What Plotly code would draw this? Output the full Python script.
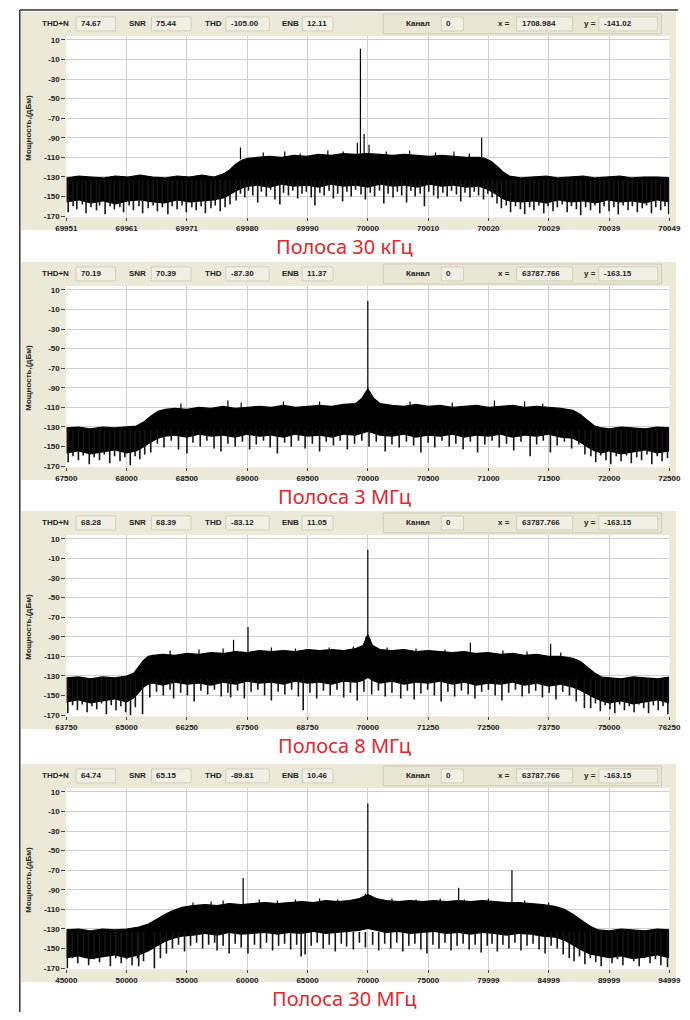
import plotly.graph_objects as go

# The page body has an 8px default margin, so the figure is sized to fit the
# 690x1020 window and all pixel positions below (measured on the reference)
# are shifted by that margin.
OFF = 8
W, H = 682, 1004

# ---------------- DATA ----------------
Y_TICKS = [10, -10, -30, -50, -70, -90, -110, -130, -150, -170]
Y_LABELS = ["10", "-10", "-30", "-50", "-70", "-90", "-110", "-130", "-150", "-170"]
Y_TITLE = "Мощность,(дБм)"
HEADER_NAMES = ["THD+N", "SNR", "THD", "ENB", "Канал", "x =", "y ="]

# Panel 1: band 30 kHz
P1_RANGE = [69951, 70049]
P1_XTICKS = [69951, 69960.8, 69970.6, 69980.4, 69990.2, 70000, 70009.8, 70019.6, 70029.4, 70039.2, 70049]
P1_XLABELS = ["69951", "69961", "69971", "69980", "69990", "70000", "70010", "70020", "70029", "70039", "70049"]
P1_HEADER = ["74.67", "75.44", "-105.00", "12.11", "0", "1708.984", "-141.02"]
P1_CAPTION = "Полоса 30 кГц"
P1_X = [69951, 69953, 69955, 69957, 69959, 69961, 69963, 69965, 69967, 69969,
        69971, 69973, 69975, 69976.5, 69977.5, 69978.5, 69979.5, 69980.5, 69982, 69984,
        69986, 69988, 69990, 69992, 69994, 69996, 69998, 70000, 70002, 70004,
        70006, 70008, 70010, 70012, 70014, 70016, 70018, 70019, 70020, 70021,
        70022, 70023, 70025, 70027, 70029, 70031, 70033, 70035, 70037, 70039,
        70041, 70043, 70045, 70047, 70049]
P1_TOP = [-131, -129, -130, -131, -129, -130, -128, -130, -131, -129,
          -130, -128, -130, -127, -123, -117, -113, -111, -110, -109,
          -110, -108, -109, -107, -108, -106, -107, -106, -107, -108,
          -107, -108, -109, -108, -109, -110, -110, -111, -114, -119,
          -125, -129, -131, -130, -129, -131, -130, -129, -131, -130,
          -129, -131, -130, -130, -131]
P1_BOT = [-156, -154, -157, -155, -158, -155, -154, -156, -157, -154,
          -156, -155, -154, -152, -149, -145, -142, -140, -139, -141,
          -138, -140, -139, -141, -138, -140, -139, -141, -138, -140,
          -139, -141, -138, -140, -139, -141, -140, -142, -145, -149,
          -153, -155, -156, -155, -157, -154, -156, -155, -157, -154,
          -156, -155, -157, -154, -156]
P1_DIPS = [(69951.3, -166), (69952.1, -160), (69952.7, -163), (69953.6, -158), (69954.2, -167),
           (69955.0, -161), (69955.9, -164), (69956.4, -159), (69957.3, -168), (69958.1, -160),
           (69958.8, -163), (69959.7, -161), (69960.3, -166), (69961.2, -159), (69961.9, -164),
           (69962.8, -160), (69963.4, -167), (69964.3, -162), (69965.1, -159), (69965.8, -165),
           (69966.6, -161), (69967.5, -168), (69968.2, -160), (69969.0, -163), (69969.8, -159),
           (69970.5, -166), (69971.4, -161), (69972.1, -164), (69972.9, -160), (69973.6, -167),
           (69974.5, -162), (69975.2, -159), (69976.0, -165), (69976.8, -161), (69977.6, -158),
           (69978.6, -154), (69979.3, -147), (69980.0, -151), (69980.6, -144), (69981.3, -149),
           (69982.1, -156), (69982.7, -145), (69983.5, -150), (69984.2, -143), (69984.9, -153),
           (69985.7, -158), (69986.3, -146), (69987.1, -149), (69987.8, -144), (69988.6, -152),
           (69989.3, -147), (69990.0, -145), (69990.8, -151), (69991.4, -159), (69992.2, -146),
           (69992.9, -149), (69993.7, -144), (69994.4, -152), (69995.1, -147), (69995.9, -155),
           (69996.6, -145), (69997.3, -150), (69998.0, -143), (69998.9, -148), (69999.6, -153),
           (70000.4, -146), (70001.1, -150), (70001.9, -144), (70002.6, -157), (70003.3, -147),
           (70004.1, -151), (70004.8, -145), (70005.5, -149), (70006.3, -156), (70007.0, -144),
           (70007.7, -150), (70008.5, -147), (70009.2, -160), (70009.9, -145), (70010.7, -149),
           (70011.4, -152), (70012.2, -146), (70012.9, -150), (70013.6, -144), (70014.4, -148),
           (70015.1, -155), (70015.8, -146), (70016.6, -151), (70017.3, -145), (70018.0, -149),
           (70018.8, -153), (70019.5, -147), (70020.2, -151),
           (70021.0, -157), (70021.7, -162), (70022.5, -159), (70023.2, -166), (70024.0, -160),
           (70024.8, -163), (70025.5, -168), (70026.3, -161), (70027.0, -164), (70027.8, -159),
           (70028.6, -167), (70029.3, -160), (70030.1, -165), (70030.8, -161), (70031.6, -158),
           (70032.4, -166), (70033.1, -160), (70033.9, -163), (70034.6, -169), (70035.4, -161),
           (70036.2, -164), (70036.9, -159), (70037.7, -167), (70038.4, -160), (70039.2, -165),
           (70040.0, -161), (70040.7, -168), (70041.5, -159), (70042.3, -164), (70043.0, -160),
           (70043.8, -166), (70044.6, -162), (70045.3, -159), (70046.1, -167), (70046.8, -161),
           (70047.6, -164), (70048.3, -160), (70048.9, -168)]
P1_PEAKS = [(69998.8, 1), (69998.3, -95), (69999.4, -86), (70000.2, -97), (70018.5, -90),
            (69979.3, -100), (69983, -105), (69986.5, -104), (69989, -106), (69993.5, -103),
            (69996, -104), (70003, -104), (70006.8, -103), (70011, -105), (70014, -104),
            (70016.5, -106)]

# Panel 2: band 3 MHz
P2_RANGE = [67500, 72500]
P2_XTICKS = [67500, 68000, 68500, 69000, 69500, 70000, 70500, 71000, 71500, 72000, 72500]
P2_XLABELS = ["67500", "68000", "68500", "69000", "69500", "70000", "70500", "71000", "71500", "72000", "72500"]
P2_HEADER = ["70.19", "70.39", "-87.30", "11.37", "0", "63787.766", "-163.15"]
P2_CAPTION = "Полоса 3 МГц"
P2_X = [67500, 67600, 67700, 67800, 67900, 68000, 68080, 68140, 68200, 68260,
        68320, 68400, 68500, 68600, 68700, 68800, 68900, 69000, 69100, 69200,
        69300, 69400, 69500, 69600, 69700, 69800, 69900, 69950, 70000, 70050,
        70100, 70200, 70300, 70400, 70500, 70600, 70700, 70800, 70900, 71000,
        71100, 71200, 71300, 71400, 71500, 71600, 71700, 71760, 71820, 71880,
        71940, 72000, 72100, 72200, 72300, 72400, 72500]
P2_TOP = [-131, -130, -132, -130, -131, -130, -129, -125, -119, -114,
          -112, -111, -112, -110, -111, -109, -111, -110, -109, -110,
          -108, -110, -109, -108, -109, -107, -106, -101, -91, -101,
          -106, -108, -109, -107, -109, -108, -110, -109, -108, -110,
          -109, -108, -110, -109, -110, -111, -113, -117, -123, -129,
          -131, -132, -130, -131, -132, -130, -131]
P2_BOT = [-157, -155, -158, -156, -154, -157, -155, -151, -146, -142,
          -140, -139, -141, -138, -140, -139, -141, -138, -140, -139,
          -141, -138, -140, -139, -141, -138, -139, -137, -135, -137,
          -139, -140, -138, -141, -139, -140, -138, -141, -139, -140,
          -138, -141, -139, -140, -138, -141, -142, -146, -151, -155,
          -157, -155, -158, -156, -154, -157, -155]
P2_DIPS = [(67515, -166), (67555, -160), (67600, -164), (67640, -159), (67690, -168),
           (67730, -161), (67775, -164), (67815, -158), (67860, -167), (67900, -160),
           (67945, -165), (67985, -161), (68030, -169), (68070, -160), (68110, -163),
           (68150, -158),
           (68200, -156), (68255, -147), (68310, -151), (68370, -144), (68430, -153),
           (68500, -157), (68550, -146), (68610, -150), (68665, -144), (68725, -152),
           (68782, -155), (68840, -147), (68900, -150), (68960, -145), (69020, -153),
           (69075, -148), (69135, -144), (69190, -151), (69250, -157), (69310, -146),
           (69365, -150), (69425, -144), (69480, -152), (69540, -147), (69600, -155),
           (69655, -145), (69715, -149), (69770, -144), (69830, -153), (69890, -147),
           (69950, -144), (70010, -150), (70070, -145), (70144, -155), (70200, -148),
           (70260, -151), (70320, -145), (70380, -149), (70440, -156), (70500, -146),
           (70555, -151), (70615, -144), (70675, -150), (70730, -147), (70790, -153),
           (70850, -145), (70910, -156), (70970, -148), (71030, -144), (71090, -151),
           (71150, -147), (71210, -154), (71270, -145), (71346, -160), (71400, -148),
           (71455, -144), (71514, -156), (71570, -149), (71630, -145), (71690, -152),
           (71750, -148), (71800, -158),
           (71850, -160), (71890, -166), (71930, -159), (71975, -164), (72015, -168),
           (72060, -160), (72100, -165), (72145, -159), (72185, -167), (72230, -161),
           (72270, -164), (72315, -158), (72355, -168), (72400, -160), (72440, -165),
           (72485, -162)]
P2_PEAKS = [(70000, -1), (69990, -95), (70012, -93), (68840, -103), (68450, -106),
            (68950, -105), (69300, -104), (69600, -104), (70350, -104), (70700, -105),
            (71050, -103), (71300, -104), (71450, -106)]

# Panel 3: band 8 MHz
P3_RANGE = [63750, 76250]
P3_XTICKS = [63750, 65000, 66250, 67500, 68750, 70000, 71250, 72500, 73750, 75000, 76250]
P3_XLABELS = ["63750", "65000", "66250", "67500", "68750", "70000", "71250", "72500", "73750", "75000", "76250"]
P3_HEADER = ["68.28", "68.39", "-83.12", "11.05", "0", "63787.766", "-163.15"]
P3_CAPTION = "Полоса 8 МГц"
P3_X = [63750, 64000, 64250, 64500, 64750, 65000, 65150, 65250, 65350, 65450,
        65550, 65750, 66000, 66250, 66500, 66750, 67000, 67250, 67500, 67750,
        68000, 68250, 68500, 68750, 69000, 69250, 69500, 69750, 69900, 70000,
        70100, 70250, 70500, 70750, 71000, 71250, 71500, 71750, 72000, 72250,
        72500, 72750, 73000, 73250, 73500, 73750, 74000, 74250, 74400, 74550,
        74700, 74850, 75000, 75250, 75500, 75750, 76000, 76250]
P3_TOP = [-132, -131, -133, -131, -132, -130, -127, -121, -114, -110,
          -109, -108, -109, -107, -108, -106, -107, -105, -106, -104,
          -105, -104, -105, -103, -104, -103, -104, -102, -99, -88,
          -99, -103, -104, -103, -105, -104, -105, -106, -105, -107,
          -106, -108, -107, -109, -108, -110, -110, -112, -115, -121,
          -127, -131, -132, -133, -131, -132, -133, -131]
P3_BOT = [-157, -155, -158, -156, -154, -157, -153, -148, -142, -139,
          -138, -140, -137, -139, -138, -140, -137, -139, -136, -138,
          -137, -139, -136, -138, -137, -139, -136, -137, -135, -132,
          -135, -138, -136, -139, -137, -138, -136, -139, -137, -140,
          -138, -139, -137, -140, -138, -141, -139, -142, -145, -149,
          -153, -156, -158, -156, -159, -157, -155, -158]
P3_DIPS = [(63780, -168), (63880, -160), (63980, -165), (64080, -159), (64180, -167),
           (64280, -161), (64380, -164), (64480, -158), (64580, -169), (64680, -160),
           (64780, -165), (64880, -161), (64980, -167), (65080, -170), (65180, -162),
           (65330, -169),
           (65480, -152), (65620, -146), (65760, -150), (65900, -144), (65974, -153),
           (66120, -147), (66260, -150), (66400, -156), (66540, -145), (66680, -149),
           (66820, -144), (66960, -151), (67100, -147), (67156, -152), (67300, -145),
           (67440, -153), (67580, -146), (67720, -144), (67860, -150), (68000, -155),
           (68140, -146), (68280, -149), (68420, -144), (68560, -151), (68660, -165),
           (68800, -147), (68940, -153), (69080, -145), (69220, -150), (69360, -144),
           (69500, -152), (69640, -147), (69780, -155), (69920, -146), (70080, -149),
           (70220, -145), (70360, -151), (70500, -147), (70682, -153), (70820, -145),
           (70960, -154), (71100, -148), (71240, -144), (71380, -150), (71520, -156),
           (71660, -146), (71800, -151), (71940, -145), (72080, -149), (72220, -153),
           (72360, -146), (72500, -144), (72640, -150), (72780, -155), (72920, -147),
           (73060, -144), (73200, -151), (73340, -148), (73480, -145), (73620, -152),
           (73760, -147), (73900, -154), (74040, -146), (74180, -150), (74320, -156),
           (74490, -163),
           (74620, -163), (74720, -158), (74820, -166), (74920, -160), (75020, -164),
           (75120, -168), (75220, -159), (75320, -165), (75420, -161), (75520, -167),
           (75620, -159), (75720, -163), (75820, -168), (75920, -160), (76020, -165),
           (76120, -161), (76220, -169)]
P3_PEAKS = [(70000, -1), (69960, -90), (70040, -92), (67216, -93), (67516, -80),
            (72126, -96), (73790, -97), (65900, -104), (66500, -103), (67000, -102),
            (68000, -101), (68500, -102), (69200, -101), (69700, -100), (70400, -101),
            (71000, -102), (71600, -103), (72800, -104), (73300, -105), (74000, -106)]

# Panel 4: band 30 MHz
P4_RANGE = [45000, 94999]
P4_XTICKS = [45000, 50000, 55000, 60000, 65000, 70000, 75000, 79999, 84999, 89999, 94999]
P4_XLABELS = ["45000", "50000", "55000", "60000", "65000", "70000", "75000", "79999", "84999", "89999", "94999"]
P4_HEADER = ["64.74", "65.15", "-89.81", "10.46", "0", "63787.766", "-163.15"]
P4_CAPTION = "Полоса 30 МГц"
P4_X = [45000, 46000, 47000, 48000, 49000, 50000, 51000, 51800, 52500, 53200,
        53900, 54600, 55500, 56500, 57500, 58500, 59500, 60500, 61500, 62500,
        63500, 64500, 65500, 66500, 67500, 68500, 69300, 70000, 70700, 71500,
        72500, 73500, 74500, 75500, 76500, 77500, 78500, 79500, 80500, 81500,
        82500, 83500, 84500, 85500, 86300, 87000, 87700, 88400, 89100, 90000,
        91000, 92000, 93000, 94000, 94999]
P4_TOP = [-131, -130, -132, -130, -131, -130, -128, -125, -120, -115,
          -111, -108, -106, -105, -106, -104, -105, -104, -103, -104,
          -103, -102, -103, -101, -102, -101, -99, -95, -99, -101,
          -102, -101, -102, -101, -102, -101, -102, -101, -102, -103,
          -103, -104, -105, -107, -110, -115, -121, -127, -131, -132,
          -130, -131, -132, -130, -131]
P4_BOT = [-160, -158, -161, -159, -157, -160, -157, -153, -148, -143,
          -140, -138, -137, -135, -137, -134, -136, -135, -134, -136,
          -134, -135, -133, -135, -134, -133, -132, -130, -132, -134,
          -133, -135, -134, -133, -135, -134, -136, -134, -135, -137,
          -135, -136, -138, -139, -142, -147, -152, -156, -158, -160,
          -158, -161, -159, -157, -160]
P4_DIPS = [(45080, -170), (45500, -160), (45950, -165), (46400, -159), (46850, -167),
           (47300, -161), (47750, -164), (48200, -158), (48650, -168), (49100, -160),
           (49550, -165), (50000, -161), (50450, -167), (50900, -160), (51000, -168),
           (51400, -163),
           (52300, -170), (52800, -160), (53300, -155), (53800, -150), (54300, -146),
           (54800, -153), (55300, -147), (55800, -144), (56300, -150), (56800, -146),
           (57300, -144), (57500, -152), (58000, -147), (58500, -155), (59000, -145),
           (59500, -149), (60060, -155), (60600, -146), (61100, -150), (61600, -144),
           (62100, -152), (62600, -147), (63100, -145), (63600, -151), (64100, -146),
           (64470, -158), (64800, -156), (65300, -147), (65800, -144), (66300, -150),
           (66800, -146), (67300, -153), (67800, -145), (68240, -148), (68800, -151),
           (69300, -144), (69800, -149), (70400, -146), (70900, -152), (71400, -145),
           (71900, -150), (72400, -144), (72900, -153), (73400, -147), (73900, -145),
           (74400, -151), (74900, -155), (75400, -146), (75900, -150), (76400, -144),
           (76900, -152), (77400, -147), (77900, -145), (78400, -151), (78900, -146),
           (79400, -154), (79900, -147), (80300, -145), (80737, -153), (81200, -146),
           (81700, -150), (82200, -144), (82700, -152), (83200, -147), (83700, -145),
           (84200, -151), (84700, -155), (85200, -147), (85700, -150), (86200, -156),
           (86700, -160),
           (87100, -163), (87550, -158), (88000, -166), (88450, -160), (88900, -164),
           (89350, -168), (89800, -159), (90250, -165), (90700, -161), (91150, -167),
           (91600, -159), (92050, -163), (92500, -168), (92950, -160), (93400, -165),
           (93850, -161), (94300, -167), (94850, -169)]
P4_PEAKS = [(70000, -2), (69800, -94), (70200, -96), (59660, -78), (81950, -70),
            (77530, -88), (55500, -103), (57000, -102), (58000, -101), (61000, -100),
            (62500, -101), (64000, -100), (66000, -99), (67500, -100), (72000, -99),
            (74000, -100), (76000, -99), (78000, -100), (80000, -99), (83000, -101),
            (85000, -103)]

PANELS = [
    dict(rng=P1_RANGE, xt=P1_XTICKS, xl=P1_XLABELS, hdr=P1_HEADER, cap=P1_CAPTION,
         x=P1_X, top=P1_TOP, bot=P1_BOT, dips=P1_DIPS, peaks=P1_PEAKS),
    dict(rng=P2_RANGE, xt=P2_XTICKS, xl=P2_XLABELS, hdr=P2_HEADER, cap=P2_CAPTION,
         x=P2_X, top=P2_TOP, bot=P2_BOT, dips=P2_DIPS, peaks=P2_PEAKS),
    dict(rng=P3_RANGE, xt=P3_XTICKS, xl=P3_XLABELS, hdr=P3_HEADER, cap=P3_CAPTION,
         x=P3_X, top=P3_TOP, bot=P3_BOT, dips=P3_DIPS, peaks=P3_PEAKS),
    dict(rng=P4_RANGE, xt=P4_XTICKS, xl=P4_XLABELS, hdr=P4_HEADER, cap=P4_CAPTION,
         x=P4_X, top=P4_TOP, bot=P4_BOT, dips=P4_DIPS, peaks=P4_PEAKS),
]

# ---------------- LAYOUT GEOMETRY (window pixels) ----------------
Y10_PX = [40, 291, 541, 795]     # pixel row of the 10 dBm tick
Y170_PX = [217, 468, 718, 972]   # pixel row of the -170 dBm tick
PLOT_L, PLOT_R = 57, 681
DIP_BASE = -133
PEAK_BASE = -112
BEIGE = "#ECE9D8"
FONT_UI = "Liberation Sans"


def fx(p):
    return (p - OFF) / W


def fy(p):
    return 1 - (p - OFF) / H


fig = go.Figure()
shapes = []
annotations = []

# outer frame lines
shapes.append(dict(type="line", xref="paper", yref="paper", x0=fx(8.8), x1=fx(690),
                   y0=fy(10), y1=fy(10), line=dict(color="#333333", width=1.5), layer="above"))
shapes.append(dict(type="line", xref="paper", yref="paper", x0=fx(8.8), x1=fx(8.8),
                   y0=fy(10), y1=fy(1020), line=dict(color="#333333", width=1.5), layer="above"))

NAME_X = [30, 120, 198, 278, 406, 502, 591]
BOX_X = [(67, 108), (145, 186), (222, 267), (301, 333), (445, 468), (523, 581), (608, 669)]

layout_axes = {}
for k, p in enumerate(PANELS):
    xa = "x" if k == 0 else f"x{k + 1}"
    ya = "y" if k == 0 else f"y{k + 1}"
    y10, y170 = Y10_PX[k], Y170_PX[k]
    s = (y170 - y10) / 180.0
    top_px, bot_px = y10 - 4, y170 + 1
    ymax = 10 + 4 / s
    ymin = -170 - 1 / s

    # panel background + plot area
    shapes.append(dict(type="rect", xref="paper", yref="paper", x0=fx(10), x1=fx(688),
                       y0=fy(y170 + 14), y1=fy(y10 - 28), fillcolor=BEIGE,
                       line=dict(width=0), layer="below"))
    shapes.append(dict(type="rect", xref="paper", yref="paper", x0=fx(PLOT_L), x1=fx(PLOT_R),
                       y0=fy(bot_px), y1=fy(top_px), fillcolor="white",
                       line=dict(width=0), layer="below"))
    # header
    hy = y10 - 16
    shapes.append(dict(type="rect", xref="paper", yref="paper", x0=fx(385), x1=fx(673),
                       y0=fy(hy + 10), y1=fy(hy - 10), fillcolor="#EAE6D4",
                       line=dict(color="#CFCBB8", width=1), layer="below"))
    for i, name in enumerate(HEADER_NAMES):
        bx0, bx1 = BOX_X[i]
        shapes.append(dict(type="rect", xref="paper", yref="paper", x0=fx(bx0), x1=fx(bx1),
                           y0=fy(hy + 7), y1=fy(hy - 7), fillcolor="#F1EFE4",
                           line=dict(color="#D2CEBD", width=1), layer="below"))
        annotations.append(dict(xref="paper", yref="paper", x=fx(NAME_X[i]), y=fy(hy),
                                text=name, showarrow=False, xanchor="left", yanchor="middle",
                                font=dict(family=FONT_UI, size=8, color="#222222", weight="bold")))
        annotations.append(dict(xref="paper", yref="paper", x=fx(bx0 + 3), y=fy(hy),
                                text=p["hdr"][i], showarrow=False, xanchor="left", yanchor="middle",
                                font=dict(family=FONT_UI, size=8, color="#222222", weight="bold")))
    # y title
    annotations.append(dict(xref="paper", yref="paper", x=fx(17), y=fy((y10 + y170) / 2),
                            text=Y_TITLE, showarrow=False, textangle=-90,
                            xanchor="center", yanchor="middle",
                            font=dict(family=FONT_UI, size=8, color="#222222", weight="bold")))
    # caption
    annotations.append(dict(xref="paper", yref="paper", x=fx(345), y=fy(y170 + 30),
                            text=p["cap"], showarrow=False, xanchor="center", yanchor="middle",
                            font=dict(family="Noto Sans", size=20, color="#E3262D")))

    # traces
    common = dict(xaxis=xa, yaxis=ya, hoverinfo="skip", showlegend=False)
    fig.add_trace(go.Scatter(x=p["x"], y=p["bot"], mode="lines",
                             line=dict(width=0, color="#000000"), **common))
    fig.add_trace(go.Scatter(x=p["x"], y=p["top"], mode="lines", fill="tonexty",
                             fillcolor="#000000", line=dict(width=1.2, color="#000000"), **common))
    dx, dy = [], []
    for xv, yv in p["dips"]:
        dx += [xv, xv, None]
        dy += [DIP_BASE, yv, None]
    fig.add_trace(go.Scatter(x=dx, y=dy, mode="lines",
                             line=dict(width=1.6, color="#151515"), **common))
    px_, py_ = [], []
    for xv, yv in p["peaks"]:
        px_ += [xv, xv, None]
        py_ += [PEAK_BASE, yv, None]
    fig.add_trace(go.Scatter(x=px_, y=py_, mode="lines",
                             line=dict(width=1.2, color="#000000"), **common))

    tickfont = dict(family=FONT_UI, size=8, color="#1a1a1a", weight="bold")
    layout_axes["xaxis" if k == 0 else f"xaxis{k + 1}"] = dict(
        domain=[fx(PLOT_L), fx(PLOT_R)], range=p["rng"], anchor=ya,
        tickmode="array", tickvals=p["xt"], ticktext=p["xl"],
        showgrid=True, gridcolor="#CFCFCF", gridwidth=1, zeroline=False,
        ticks="outside", ticklen=3, tickcolor="#444444", tickfont=tickfont,
        ticklabeloverflow="allow", showline=False, fixedrange=True)
    layout_axes["yaxis" if k == 0 else f"yaxis{k + 1}"] = dict(
        domain=[fy(bot_px), fy(top_px)], range=[ymin, ymax], anchor=xa,
        tickmode="array", tickvals=Y_TICKS, ticktext=Y_LABELS,
        showgrid=True, gridcolor="#CFCFCF", gridwidth=1, zeroline=False,
        ticks="outside", ticklen=4, tickcolor="#444444", tickfont=tickfont,
        ticklabeloverflow="allow", showline=False, fixedrange=True)

fig.update_layout(
    width=W, height=H, margin=dict(l=0, r=0, t=0, b=0),
    paper_bgcolor="white", plot_bgcolor="rgba(0,0,0,0)",
    shapes=shapes, annotations=annotations, showlegend=False,
    **layout_axes)

fig.write_html("out.html")
